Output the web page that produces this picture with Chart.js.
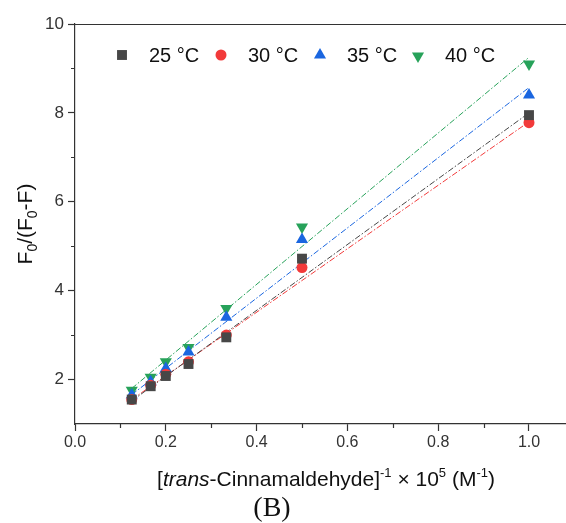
<!DOCTYPE html>
<html>
<head>
<meta charset="utf-8">
<script src="https://cdn.jsdelivr.net/npm/chart.js@4/dist/chart.umd.min.js"></script>
<style>
  html, body { margin: 0; padding: 0; background: #fff; overflow: hidden; }
  #wrap { width: 566px; height: 523px; }
  canvas { display: block; }
</style>
</head>
<body>
<div id="wrap"><canvas id="canvas" width="566" height="523"></canvas></div>
<script>
// inverse concentration (x 10^5 M^-1)
const xVals = [0.125, 0.1667, 0.2, 0.25, 0.3333, 0.5, 1.0];
const t25 = [1.55, 1.85, 2.08, 2.35, 2.95, 4.72, 7.95];
const t30 = [1.55, 1.87, 2.12, 2.40, 3.00, 4.52, 7.78];
const t35 = [1.65, 1.95, 2.25, 2.62, 3.40, 5.15, 8.40];
const t40 = [1.76, 2.05, 2.40, 2.72, 3.60, 5.43, 9.10];
// fitted line ends at x = 0.125 and x = 1.0
const fitX = [0.125, 1.0];
const fit25 = [1.52, 8.00];
const fit30 = [1.55, 7.80];
const fit35 = [1.66, 8.57];
const fit40 = [1.80, 9.25];
const seriesLabels = ['25 °C', '30 °C', '35 °C', '40 °C'];
const colors = ['#474747', '#f23a3a', '#1a66e0', '#27a25a'];
const styles = ['rect', 'circle', 'triangle', 'triangle'];
const rotations = [0, 0, 0, 180];
const radii = [7, 5.5, 7, 7];
const xTicks = [0, 0.2, 0.4, 0.6, 0.8, 1.0];
const yTicks = [2, 4, 6, 8, 10];

const pts = (xs, ys) => xs.map((x, i) => ({x: x, y: ys[i]}));
const allSeries = [t25, t30, t35, t40];
const allFits = [fit25, fit30, fit35, fit40];

const datasets = [];
allFits.forEach((f, i) => {
  datasets.push({
    type: 'line',
    data: pts(fitX, f),
    borderColor: colors[i],
    borderWidth: 1,
    borderDash: [6, 2, 1.5, 2],
    pointRadius: 0,
    fill: false,
    order: 10
  });
});
allSeries.forEach((s, i) => {
  datasets.push({
    type: 'scatter',
    label: seriesLabels[i],
    data: pts(xVals, s),
    backgroundColor: colors[i],
    borderColor: colors[i],
    borderWidth: 0,
    pointStyle: styles[i],
    rotation: rotations[i],
    pointRadius: radii[i],
    order: 1
  });
});

const font = 'Liberation Sans, Arial, sans-serif';

// frame, minor ticks, legend, axis titles
const decor = {
  id: 'decor',
  afterDraw(chart) {
    const ctx = chart.ctx;
    const a = chart.chartArea;
    const xs = chart.scales.x, ys = chart.scales.y;
    ctx.save();
    ctx.strokeStyle = '#333';
    ctx.lineWidth = 1.2;
    ctx.beginPath();
    ctx.moveTo(a.left, a.top + 0.5);
    ctx.lineTo(566, a.top + 0.5);
    // minor ticks
    for (let v = 0.1; v < 1.08; v += 0.2) {
      const px = Math.round(xs.getPixelForValue(v)) + 0.5;
      ctx.moveTo(px, a.bottom);
      ctx.lineTo(px, a.bottom + 4);
    }
    for (let v = 3; v <= 9; v += 2) {
      const py = Math.round(ys.getPixelForValue(v)) + 0.5;
      ctx.moveTo(a.left, py);
      ctx.lineTo(a.left - 4, py);
    }
    ctx.stroke();

    // legend inside plot
    const lx = [122, 221, 320, 418];
    const ly = 55;
    ctx.font = '20px ' + font;
    ctx.textBaseline = 'middle';
    ctx.textAlign = 'left';
    seriesLabels.forEach((lab, i) => {
      ctx.fillStyle = colors[i];
      ctx.strokeStyle = colors[i];
      Chart.helpers.drawPoint(ctx, {pointStyle: styles[i], radius: radii[i], rotation: rotations[i], borderWidth: 0}, lx[i], ly + (i === 3 ? 1 : 0));
      ctx.fillStyle = '#111';
      ctx.fillText(lab, lx[i] + 27, ly + 1);
    });

    // y title with subscripts
    ctx.save();
    ctx.translate(25, (a.top + a.bottom) / 2);
    ctx.rotate(-Math.PI / 2);
    ctx.fillStyle = '#111';
    ctx.textBaseline = 'alphabetic';
    const parts = [['F', 0], ['0', 1], ['/(F', 0], ['0', 1], ['-F)', 0]];
    let w = 0;
    parts.forEach(p => { ctx.font = (p[1] ? '14px ' : '21px ') + font; w += ctx.measureText(p[0]).width; });
    let cx = -w / 2;
    parts.forEach(p => {
      ctx.font = (p[1] ? '14px ' : '21px ') + font;
      ctx.fillText(p[0], cx, p[1] ? 12 : 7);
      cx += ctx.measureText(p[0]).width;
    });
    ctx.restore();

    // x title
    const xparts = [['[', 'n'], ['trans', 'i'], ['-Cinnamaldehyde]', 'n'], ['-1', 's'], [' \u00d7 10', 'n'], ['5', 's'], [' (M', 'n'], ['-1', 's'], [')', 'n']];
    const fontOf = t => t === 'i' ? 'italic 21px ' + font : (t === 's' ? '13px ' + font : '21px ' + font);
    let xw = 0;
    xparts.forEach(p => { ctx.font = fontOf(p[1]); xw += ctx.measureText(p[0]).width; });
    let tx = 326 - xw / 2;
    ctx.fillStyle = '#111';
    ctx.textBaseline = 'alphabetic';
    xparts.forEach(p => {
      ctx.font = fontOf(p[1]);
      ctx.fillText(p[0], tx, p[1] === 's' ? 477 : 486);
      tx += ctx.measureText(p[0]).width;
    });

    // panel letter
    ctx.font = '28px Liberation Serif, Times New Roman, serif';
    ctx.textAlign = 'center';
    ctx.fillText('(B)', 272, 516);
    ctx.restore();
  }
};

const config = {
  data: { datasets: datasets },
  options: {
    responsive: false,
    animation: false,
    layout: { autoPadding: false, padding: { top: 24, right: 0, left: 0, bottom: 0 } },
    plugins: { legend: { display: false }, tooltip: { enabled: false } },
    scales: {
      x: {
        type: 'linear',
        min: 0,
        max: 1.0815,
        afterBuildTicks: s => { s.ticks = xTicks.map(v => ({value: v})); },
        afterFit: s => { s.height = 99; s.paddingRight = 0; },
        ticks: {
          font: { size: 16, family: font },
          color: '#333',
          padding: 2,
          callback: v => v.toFixed(1)
        },
        grid: { drawOnChartArea: false, tickLength: 7, tickColor: '#333', tickWidth: 1.2 },
        border: { color: '#333', width: 1.2 }
      },
      y: {
        type: 'linear',
        min: 1,
        max: 10,
        afterBuildTicks: s => { s.ticks = yTicks.map(v => ({value: v})); },
        afterFit: s => { s.width = 75; s.paddingTop = 0; },
        ticks: {
          font: { size: 17, family: font },
          color: '#333',
          padding: 4
        },
        grid: { drawOnChartArea: false, tickLength: 7, tickColor: '#333', tickWidth: 1.2 },
        border: { color: '#333', width: 1.2 }
      }
    }
  },
  plugins: [decor]
};

const canvas = document.getElementById('canvas');
const chart = new Chart(canvas, config);
</script>
</body>
</html>
